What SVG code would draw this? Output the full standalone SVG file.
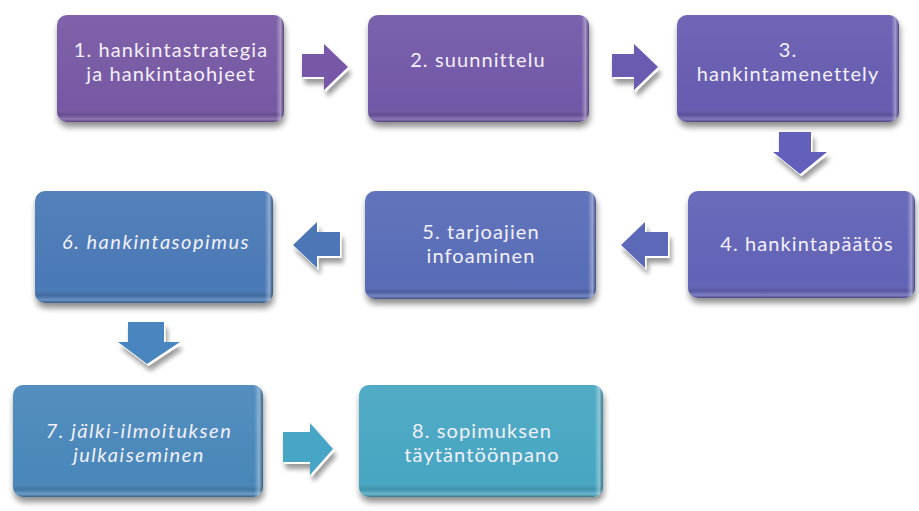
<svg xmlns="http://www.w3.org/2000/svg" width="919" height="511" viewBox="0 0 919 511">
<defs>
  <filter id="sh" x="-10%" y="-10%" width="125%" height="135%">
    <feGaussianBlur in="SourceAlpha" stdDeviation="3"/>
    <feOffset dx="1" dy="5" result="b"/>
    <feComponentTransfer><feFuncA type="linear" slope="0.45"/></feComponentTransfer>
    <feMerge><feMergeNode/><feMergeNode in="SourceGraphic"/></feMerge>
  </filter>
  <filter id="ash" x="-30%" y="-30%" width="170%" height="180%">
    <feGaussianBlur in="SourceAlpha" stdDeviation="2.5"/>
    <feOffset dx="2" dy="5" result="b"/>
    <feComponentTransfer><feFuncA type="linear" slope="0.4"/></feComponentTransfer>
    <feMerge><feMergeNode/><feMergeNode in="SourceGraphic"/></feMerge>
  </filter>
  <linearGradient id="bev" x1="0" y1="0" x2="0" y2="1">
    <stop offset="0" stop-color="#fff" stop-opacity="0.06"/>
    <stop offset="0.86" stop-color="#fff" stop-opacity="0"/>
    <stop offset="0.93" stop-color="#000" stop-opacity="0.12"/>
    <stop offset="0.97" stop-color="#fff" stop-opacity="0.18"/>
    <stop offset="1" stop-color="#000" stop-opacity="0.3"/>
  </linearGradient>
  <linearGradient id="bevR" x1="0" y1="0" x2="1" y2="0">
    <stop offset="0" stop-color="#fff" stop-opacity="0"/>
    <stop offset="0.965" stop-color="#fff" stop-opacity="0"/>
    <stop offset="0.985" stop-color="#fff" stop-opacity="0.35"/>
    <stop offset="1" stop-color="#000" stop-opacity="0.25"/>
  </linearGradient>
</defs>
<style>
  .box { filter: url(#sh); }
  .ov { fill: url(#bev); }
  .ovr { fill: url(#bevR); }
  .t { font-family: Lato, "Open Sans", "Liberation Sans", sans-serif; font-size: 20px; letter-spacing: 1.1px; fill: #f3f1fa; text-anchor: middle; }
  .i { font-style: italic; letter-spacing: 1.5px; }
  .aw { fill: #ffffff; }
  .arr { filter: url(#ash); }
</style>

<g id="node1">
  <g class="box"><rect x="57" y="15" width="227" height="107" rx="10" fill="#7759a4"/></g>
  <rect class="ov" x="57" y="15" width="227" height="107" rx="10"/>
  <rect class="ovr" x="57" y="15" width="227" height="107" rx="10"/>
  <text class="t" x="171" y="57">1. hankintastrategia</text>
  <text class="t" x="171" y="81">ja hankintaohjeet</text>
</g>
<g id="node2">
  <g class="box"><rect x="368" y="15" width="221" height="107" rx="10" fill="#7259a8"/></g>
  <rect class="ov" x="368" y="15" width="221" height="107" rx="10"/>
  <rect class="ovr" x="368" y="15" width="221" height="107" rx="10"/>
  <text class="t" x="478" y="67">2. suunnittelu</text>
</g>
<g id="node3">
  <g class="box"><rect x="677" y="15" width="222" height="107" rx="10" fill="#665cb0"/></g>
  <rect class="ov" x="677" y="15" width="222" height="107" rx="10"/>
  <rect class="ovr" x="677" y="15" width="222" height="107" rx="10"/>
  <text class="t" x="788" y="57">3.</text>
  <text class="t" x="788" y="81">hankintamenettely</text>
</g>
<g id="node4">
  <g class="box"><rect x="688" y="191" width="227" height="107" rx="10" fill="#6262b7"/></g>
  <rect class="ov" x="688" y="191" width="227" height="107" rx="10"/>
  <rect class="ovr" x="688" y="191" width="227" height="107" rx="10"/>
  <text class="t" x="807" y="251">4. hankintapäätös</text>
</g>
<g id="node5">
  <g class="box"><rect x="365" y="191" width="231" height="108" rx="10" fill="#586cb7"/></g>
  <rect class="ov" x="365" y="191" width="231" height="108" rx="10"/>
  <rect class="ovr" x="365" y="191" width="231" height="108" rx="10"/>
  <text class="t" x="481" y="239">5. tarjoajien</text>
  <text class="t" x="481" y="263">infoaminen</text>
</g>
<g id="node6">
  <g class="box"><rect x="35" y="191" width="238" height="112" rx="10" fill="#4a79b6"/></g>
  <rect class="ov" x="35" y="191" width="238" height="112" rx="10"/>
  <rect class="ovr" x="35" y="191" width="238" height="112" rx="10"/>
  <text class="t i" x="156" y="249">6. hankintasopimus</text>
</g>
<g id="node7">
  <g class="box"><rect x="13" y="385" width="250" height="112" rx="10" fill="#4887ba"/></g>
  <rect class="ov" x="13" y="385" width="250" height="112" rx="10"/>
  <rect class="ovr" x="13" y="385" width="250" height="112" rx="10"/>
  <text class="t i" x="139" y="438">7. jälki-ilmoituksen</text>
  <text class="t i" x="139" y="462">julkaiseminen</text>
</g>
<g id="node8">
  <g class="box"><rect x="359" y="385" width="244" height="112" rx="10" fill="#47a6c2"/></g>
  <rect class="ov" x="359" y="385" width="244" height="112" rx="10"/>
  <rect class="ovr" x="359" y="385" width="244" height="112" rx="10"/>
  <text class="t" x="482" y="438">8. sopimuksen</text>
  <text class="t" x="482" y="462">täytäntöönpano</text>
</g>

<g id="connectors">
  <g class="arr">
    <polygon class="aw" transform="translate(1.5,2)" points="302,54 324,54 324,44 348,67 324,90 324,77 302,77"/>
    <polygon fill="#7759a8" points="302,54 324,54 324,44 348,67 324,90 324,77 302,77"/>
  </g>
  <g class="arr">
    <polygon class="aw" transform="translate(1.5,2)" points="612,54 634,54 634,44 658,67 634,90 634,77 612,77"/>
    <polygon fill="#6a5ab0" points="612,54 634,54 634,44 658,67 634,90 634,77 612,77"/>
  </g>
  <g class="arr">
    <polygon class="aw" transform="translate(1.5,2)" points="779,132 811,132 811,152 827,152 800,174 773,152 779,152"/>
    <polygon fill="#6360bb" points="779,132 811,132 811,152 827,152 800,174 773,152 779,152"/>
  </g>
  <g class="arr">
    <polygon class="aw" transform="translate(1.5,2)" points="668,232 645,232 645,222 621,245 645,268 645,256 668,256"/>
    <polygon fill="#5b68b8" points="668,232 645,232 645,222 621,245 645,268 645,256 668,256"/>
  </g>
  <g class="arr">
    <polygon class="aw" transform="translate(1.5,2)" points="340,232 317,232 317,222 293,245 317,268 317,256 340,256"/>
    <polygon fill="#4e76b7" points="340,232 317,232 317,222 293,245 317,268 317,256 340,256"/>
  </g>
  <g class="arr">
    <polygon class="aw" transform="translate(1.5,2)" points="128,322 164,322 164,342 180,342 147,364 118,342 128,342"/>
    <polygon fill="#4a86bf" points="128,322 164,322 164,342 180,342 147,364 118,342 128,342"/>
  </g>
  <g class="arr">
    <polygon class="aw" transform="translate(1.5,2)" points="283,432 310,432 310,423 333,449 310,475 310,462 283,462"/>
    <polygon fill="#47a5c6" points="283,432 310,432 310,423 333,449 310,475 310,462 283,462"/>
  </g>
</g>
</svg>
